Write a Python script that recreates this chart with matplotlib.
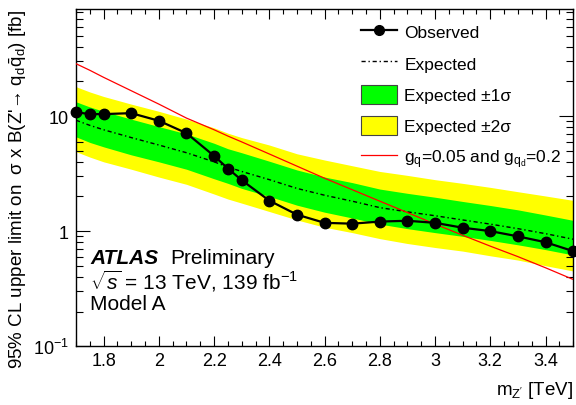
import matplotlib
matplotlib.use("Agg")
import matplotlib.pyplot as plt
import matplotlib.ticker as mticker
from matplotlib.lines import Line2D
from matplotlib.patches import Patch

plt.rcParams["font.family"] = ["Liberation Sans", "DejaVu Sans"]
plt.rcParams["mathtext.fontset"] = "custom"
plt.rcParams["mathtext.rm"] = "Liberation Sans"
plt.rcParams["mathtext.it"] = "Liberation Sans:italic"
plt.rcParams["mathtext.bf"] = "Liberation Sans:bold"

# ─── data ───────────────────────────────────────────────
mass = [1.7, 1.75, 1.8, 1.9, 2.0, 2.1, 2.2, 2.25, 2.3, 2.4, 2.5,
        2.6, 2.7, 2.8, 2.9, 3.0, 3.1, 3.2, 3.3, 3.4, 3.5]
observed = [10.8, 10.4, 10.4, 10.6, 9.1, 7.1, 4.5, 3.5, 2.77, 1.84, 1.39,
            1.18, 1.16, 1.21, 1.23, 1.18, 1.07, 1.0, 0.9, 0.8, 0.67]
expected = [9.2, 8.3, 7.6, 6.5, 5.6, 4.8, 4.0, 3.6, 3.3, 2.8, 2.35,
            2.05, 1.82, 1.6, 1.47, 1.36, 1.25, 1.15, 1.05, 0.95, 0.85]
sig1_lo = [6.6, 5.9, 5.4, 4.6, 4.0, 3.45, 2.85, 2.6, 2.35, 2.0, 1.68,
           1.46, 1.3, 1.15, 1.05, 0.97, 0.9, 0.83, 0.76, 0.69, 0.62]
sig1_hi = [13.3, 12.0, 11.0, 9.4, 8.1, 7.0, 5.8, 5.2, 4.8, 4.05, 3.4,
           2.95, 2.64, 2.32, 2.13, 1.97, 1.81, 1.67, 1.53, 1.38, 1.24]
sig2_lo = [4.9, 4.4, 4.0, 3.45, 2.95, 2.55, 2.1, 1.9, 1.75, 1.48, 1.25,
           1.08, 0.97, 0.86, 0.78, 0.72, 0.67, 0.61, 0.56, 0.5, 0.45]
sig2_hi = [18.0, 16.2, 14.8, 12.7, 11.0, 9.4, 7.9, 7.1, 6.5, 5.6, 4.7,
           4.15, 3.7, 3.3, 3.05, 2.8, 2.6, 2.4, 2.2, 2.02, 1.85]
theory = [28.5, 25.0, 21.7, 16.6, 12.7, 9.6, 7.6, 6.7, 5.96, 4.68, 3.67,
          2.88, 2.29, 1.82, 1.45, 1.15, 0.92, 0.74, 0.6, 0.48, 0.38]
# ─────────────────────────────────────────────────────────

fig = plt.figure(figsize=(5.76, 4.06), dpi=100)
ax = fig.add_axes([0.132, 0.145, 0.863, 0.830])

ax.fill_between(mass, sig2_lo, sig2_hi, color="#ffff00", lw=0, zorder=1)
ax.fill_between(mass, sig1_lo, sig1_hi, color="#00ff00", lw=0, zorder=2)
ax.plot(mass, expected, color="black", lw=1.0, ls=(0, (3, 2, 1, 2)), zorder=3)
ax.plot(mass, theory, color="#ff0000", lw=0.9, zorder=4)
ax.plot(mass, observed, color="black", lw=1.6, marker="o", ms=7.5, zorder=5,
        clip_on=False)

ax.set_yscale("log")
ax.set_xlim(1.7, 3.5)
ax.set_ylim(0.1, 85)

ax.xaxis.set_major_locator(mticker.MultipleLocator(0.2))
ax.xaxis.set_minor_locator(mticker.MultipleLocator(0.05))
ax.xaxis.set_major_formatter(mticker.FuncFormatter(lambda v, _: f"{v:g}"))
ax.yaxis.set_major_locator(mticker.FixedLocator([0.1, 1, 10]))
ax.yaxis.set_major_formatter(mticker.FuncFormatter(
    lambda v, _: r"$10^{-1}$" if v < 0.5 else f"{v:g}"))
ax.yaxis.set_minor_locator(mticker.LogLocator(subs=range(2, 10)))
ax.yaxis.set_minor_formatter(mticker.NullFormatter())

ax.tick_params(which="both", direction="in", top=True, right=True,
               labelsize=13, width=0.8)
ax.tick_params(axis="x", which="major", length=7, pad=4)
ax.tick_params(axis="x", which="minor", length=3.5)
ax.tick_params(axis="y", which="major", length=10, pad=5)
ax.tick_params(axis="y", which="minor", length=5)
for s in ax.spines.values():
    s.set_linewidth(1.0)

fig.text(0.031, 0.975,
         r"95% CL upper limit on  σ x B(Z'→ q$_{\mathrm{d}}\bar{\mathrm{q}}_{\mathrm{d}}$) [fb]",
         rotation=90, ha="center", va="top", fontsize=13.5)
fig.text(0.995, 0.039, r"m$_{\mathrm{Z'}}$ [TeV]", ha="right", va="center",
         fontsize=13.5)

ax.text(0.028, 0.262, "ATLAS", transform=ax.transAxes, fontsize=15,
        fontweight="bold", fontstyle="italic", va="center")
ax.text(0.189, 0.262, "Preliminary", transform=ax.transAxes, fontsize=15,
        va="center")
ax.text(0.028, 0.195, r"$\sqrt{s}$ = 13 TeV, 139 fb$^{-1}$",
        transform=ax.transAxes, fontsize=15, va="center")
ax.text(0.028, 0.127, "Model A", transform=ax.transAxes, fontsize=15,
        va="center")

handles = [
    Line2D([], [], color="black", lw=1.6, marker="o", ms=7),
    Line2D([], [], color="black", lw=1.0, ls=(0, (3, 2, 1, 2))),
    Patch(facecolor="#00ff00", edgecolor="#444444", lw=0.8),
    Patch(facecolor="#ffff00", edgecolor="#444444", lw=0.8),
    Line2D([], [], color="#ff0000", lw=0.9),
]
labels = ["Observed", "Expected", "Expected ±1σ", "Expected ±2σ",
          r"g$_{\mathrm{q}}$=0.05 and g$_{\mathrm{q}_{\mathrm{d}}}$=0.2"]
ax.legend(handles, labels, loc="upper left", bbox_to_anchor=(0.573, 0.962),
          frameon=False, fontsize=12.5, handlelength=2.1, handleheight=1.35,
          handletextpad=0.4, labelspacing=0.68, borderpad=0, borderaxespad=0)

fig.savefig("out.png", dpi=100)
